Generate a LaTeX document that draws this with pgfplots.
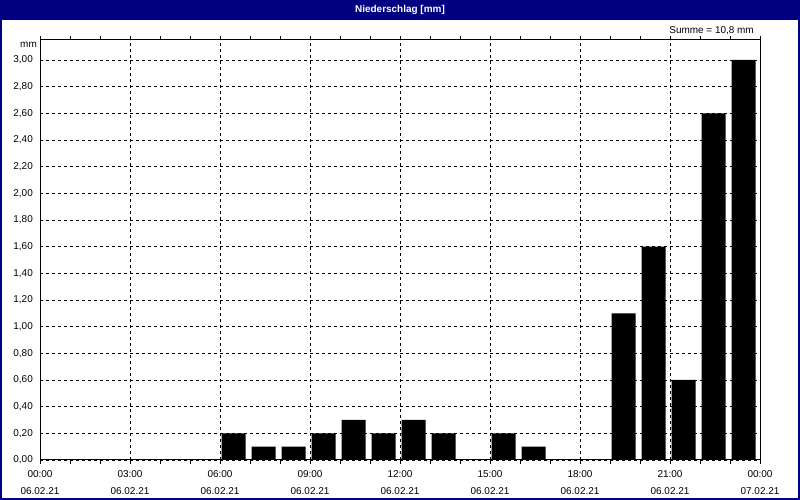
\documentclass[border=0pt]{standalone}
\usepackage{pgfplots}
\pgfplotsset{compat=1.18}
\usepackage{fontspec}
\setmainfont{Liberation Sans}
\definecolor{navyT}{RGB}{0,0,128}
\begin{document}
\begin{tikzpicture}[x=1bp,y=1bp]
\useasboundingbox (0,0) rectangle (800,500);
\fill[white] (0,0) rectangle (800,500);
\fill[navyT] (0,480) rectangle (800,500);
\draw[navyT,line width=2bp] (1,1) rectangle (799,499);
\node[text=white,font=\fontsize{10}{12}\selectfont\bfseries] at (400,490) {Niederschlag [mm]};
\node[anchor=east,font=\fontsize{10}{12}\selectfont,inner sep=0pt] at (754,469) {Summe = 10,8 mm};
\node[anchor=east,font=\fontsize{10}{12}\selectfont,inner sep=0pt] at (37,455) {mm};
\begin{axis}[
  at={(40bp,40bp)}, anchor=south west,
  scale only axis, width=720bp, height=420bp,
  xmin=0, xmax=24, ymin=0, ymax=3.15,
  axis line style={black, line width=1bp},
  xtick={0,3,...,24},
  xticklabels={{00:00\\06.02.21},{03:00\\06.02.21},{06:00\\06.02.21},{09:00\\06.02.21},{12:00\\06.02.21},{15:00\\06.02.21},{18:00\\06.02.21},{21:00\\06.02.21},{00:00\\07.02.21}},
  minor xtick={1,2,4,5,7,8,10,11,13,14,16,17,19,20,22,23},
  ytick={0,0.2,...,3.01},
  tick align=outside,
  major tick length=4bp, minor tick length=4bp,
  xtick style={black, line width=0.8bp},
  ytick style={draw=none},
  xticklabel style={align=center, font=\fontsize{10}{17}\selectfont, inner sep=0pt, yshift=-6bp},
  yticklabel style={font=\fontsize{10}{12}\selectfont, inner sep=0pt, xshift=-3bp},
  /pgf/number format/.cd, fixed, fixed zerofill, precision=2, use comma, assume math mode=true,
  /pgfplots/.cd,
  grid=major,
  major grid style={black, line width=0.8bp, dash pattern=on 3bp off 3bp},
  axis line style={black, line width=1bp},
  clip=false,
]
\addplot[ybar, bar width=24bp, fill=black, draw=none] coordinates {
(6.45,0.2) (7.45,0.1) (8.45,0.1) (9.45,0.2) (10.45,0.3) (11.45,0.2)
(12.45,0.3) (13.45,0.2) (15.45,0.2) (16.45,0.1)
(19.45,1.1) (20.45,1.6) (21.45,0.6) (22.45,2.6) (23.45,3.0)
};
\end{axis}
\end{tikzpicture}
\end{document}
